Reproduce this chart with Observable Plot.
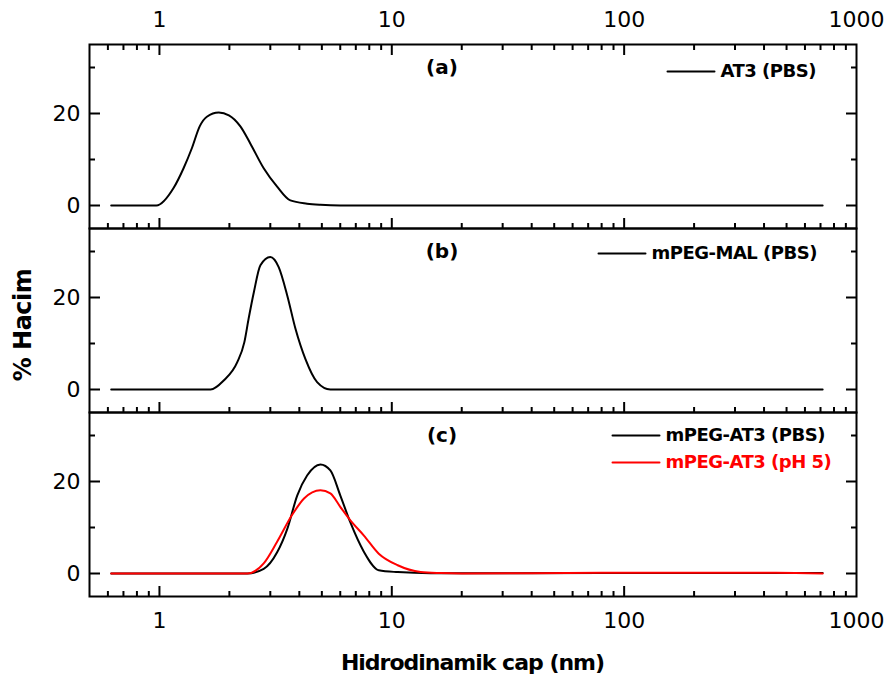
<!DOCTYPE html>
<html>
<head>
<meta charset="utf-8">
<script src="https://cdn.jsdelivr.net/npm/d3@7"></script>
<script src="https://cdn.jsdelivr.net/npm/@observablehq/plot@0.6"></script>
<style>
  body { margin: 0; background: #fff; }
  #chart svg g.legend-text text { letter-spacing: -0.5px; }
</style>
</head>
<body>
<div id="chart"></div>
<script>
// ---------- data ----------
const panels = ["a", "b", "c"];

const sizeA = [0.62, 0.97, 1.15, 1.27, 1.38, 1.49, 1.60, 1.80, 1.99, 2.23, 2.46, 2.81, 3.21, 3.66, 4.32, 4.93, 6.0, 715];
const volA  = [0,    0,    3.8,  8.1,  12.5, 17.2, 19.3, 20.2, 19.6, 17.2, 13.5, 8.1,  4.1,  1.1,  0.4,  0.15, 0,   0];

const sizeB = [0.62, 1.66, 1.89, 2.16, 2.32, 2.42, 2.55, 2.72, 3.00, 3.26, 3.55, 3.85, 4.25, 4.77, 5.44, 715];
const volB  = [0,    0,    1.96, 5.9,  10.3, 15.4, 21.2, 27.0, 28.8, 26.6, 20.4, 13.2, 6.6,  1.6,  0,    0];

const sizeC1 = [0.62, 2.39, 2.81, 3.21, 3.55, 3.92, 4.32, 4.93, 5.44, 6.00, 6.62, 7.57, 8.79, 10.6, 14.7, 80,  715];
const volC1  = [0,    0,    1.0,  4.6,  9.7,  17.0, 21.3, 23.7, 22.4, 17.0, 11.2, 4.8,  0.7,  0.3,  0.05, 0.1, 0.1];

const sizeC2 = [0.62, 2.39, 2.81, 3.21, 3.72, 4.19, 4.93, 5.44, 6.00, 6.62, 7.57, 8.79, 10.6, 13.3, 16.2, 20,  80,   450,  715];
const volC2  = [0,    0,    2.2,  6.9,  12.7, 16.3, 18.1, 17.4, 14.5, 11.6, 8.3,  4.3,  1.8,  0.35, 0.1,  0,   0.15, 0.15, 0];

const seriesNames  = ["AT3 (PBS)", "mPEG-MAL (PBS)", "mPEG-AT3 (PBS)", "mPEG-AT3 (pH 5)"];
const seriesPanels = ["a", "b", "c", "c"];
const seriesColors = ["black", "black", "black", "red"];

const xLabelTicks = [1, 10, 100, 1000];
const xMajorTicks = [1, 10, 100];
const xMinorTicks = [0.6, 0.7, 0.8, 0.9, 2, 3, 4, 5, 6, 7, 8, 9, 20, 30, 40, 50, 60, 70, 80, 90, 200, 300, 400, 500, 600, 700, 800, 900];
const yLabelTicks = [0, 20];
const yMinorTicks = [10, 30];

const xTitle = "Hidrodinamik cap (nm)";
const yTitle = "% Hacim";

// ---------- build table ----------
const seriesData = [[sizeA, volA], [sizeB, volB], [sizeC1, volC1], [sizeC2, volC2]];
const rows = [];
seriesData.forEach(([xs, ys], i) => {
  xs.forEach((x, j) => rows.push({series: seriesNames[i], panel: seriesPanels[i], size: x, volume: ys[j]}));
});

// ---------- layout (styling only) ----------
const W = 891, H = 682;
const M = {top: 43, right: 35, bottom: 85, left: 89};
const legendLayout = [
  {dx: 578, dy: 27},
  {dx: 509, dy: 25},
  {dx: 523, dy: 23},
  {dx: 523, dy: 50}
];
const swatchLen = 47, swatchGap = 6;
const lineShape = {draw(ctx, l) { ctx.moveTo(0, 0); ctx.lineTo(l, 0); }};

const legendMarks = [];
seriesNames.forEach((name, i) => {
  const L = legendLayout[i];
  legendMarks.push(
    Plot.vector([name], {
      fy: () => seriesPanels[i], frameAnchor: "top-left", anchor: "start",
      length: swatchLen, shape: lineShape, stroke: seriesColors[i], strokeWidth: 2,
      dx: L.dx, dy: L.dy
    }),
    Plot.text([name], {
      fy: () => seriesPanels[i], frameAnchor: "top-left", text: d => d,
      textAnchor: "start", lineAnchor: "middle",
      dx: L.dx + swatchLen + swatchGap, dy: L.dy,
      fill: seriesColors[i], fontWeight: "bold", fontSize: 18, className: "legend-text"
    })
  );
});

const tickStyle = {fill: "none", strokeWidth: 2, label: null};

const chart = Plot.plot({
  width: W, height: H,
  marginTop: M.top, marginRight: M.right, marginBottom: M.bottom, marginLeft: M.left,
  style: {fontFamily: "DejaVu Sans", fontSize: "22px", background: "white", color: "black"},
  x: {type: "log", domain: [0.5, 1000]},
  y: {domain: [-5, 35]},
  fy: {domain: panels, padding: 0, axis: null},
  color: {domain: seriesNames, range: seriesColors},
  marks: [
    // inward ticks: top edge of the top panel, bottom/left/right edges of every panel
    Plot.axisX(xMajorTicks, {...tickStyle, anchor: "top", tickSize: -10, facetAnchor: "top"}),
    Plot.axisX(xMinorTicks, {...tickStyle, anchor: "top", tickSize: -5, facetAnchor: "top"}),
    Plot.axisX(xMajorTicks, {...tickStyle, anchor: "bottom", tickSize: -10, facetAnchor: null}),
    Plot.axisX(xMinorTicks, {...tickStyle, anchor: "bottom", tickSize: -5, facetAnchor: null}),
    Plot.axisY(yLabelTicks, {...tickStyle, anchor: "left", tickSize: -11, facetAnchor: null}),
    Plot.axisY(yMinorTicks, {...tickStyle, anchor: "left", tickSize: -6, facetAnchor: null}),
    Plot.axisY(yLabelTicks, {...tickStyle, anchor: "right", tickSize: -11, facetAnchor: null}),
    Plot.axisY(yMinorTicks, {...tickStyle, anchor: "right", tickSize: -6, facetAnchor: null}),
    // tick labels
    Plot.axisX(xLabelTicks, {anchor: "top", tickSize: 0, tickPadding: 18, tickFormat: d => String(d), fontSize: 22, label: null}),
    Plot.axisX(xLabelTicks, {anchor: "bottom", tickSize: 0, tickPadding: 16, tickFormat: d => String(d), fontSize: 22, label: null}),
    Plot.axisY(yLabelTicks, {anchor: "left", tickSize: 0, tickPadding: 9, tickFormat: d => String(d), fontSize: 22, label: null}),
    Plot.frame({strokeWidth: 2}),
    Plot.line(rows, {x: "size", y: "volume", fy: "panel", z: "series", stroke: "series", strokeWidth: 2, curve: "monotone-x"}),
    Plot.text(panels, {fy: d => d, text: d => `(${d})`, frameAnchor: "top-left", textAnchor: "middle", lineAnchor: "middle",
      dx: 352.5, dy: 23, fontWeight: "bold", fontSize: 20}),
    ...legendMarks
  ]
});

document.getElementById("chart").appendChild(chart);

// axis titles
const svg = d3.select(chart);
svg.append("text")
  .attr("transform", `translate(23,${(M.top + H - M.bottom) / 2 + 5}) rotate(-90)`)
  .attr("text-anchor", "middle").attr("dy", "0.35em")
  .attr("font-family", "DejaVu Sans").attr("font-weight", "bold").attr("font-size", 24)
  .attr("letter-spacing", "-0.5px")
  .text(yTitle);
svg.append("text")
  .attr("x", (M.left + W - M.right) / 2).attr("y", 662)
  .attr("text-anchor", "middle").attr("dy", "0.35em")
  .attr("font-family", "DejaVu Sans").attr("font-weight", "bold").attr("font-size", 22)
  .attr("letter-spacing", "-1px")
  .text(xTitle);
</script>
</body>
</html>
